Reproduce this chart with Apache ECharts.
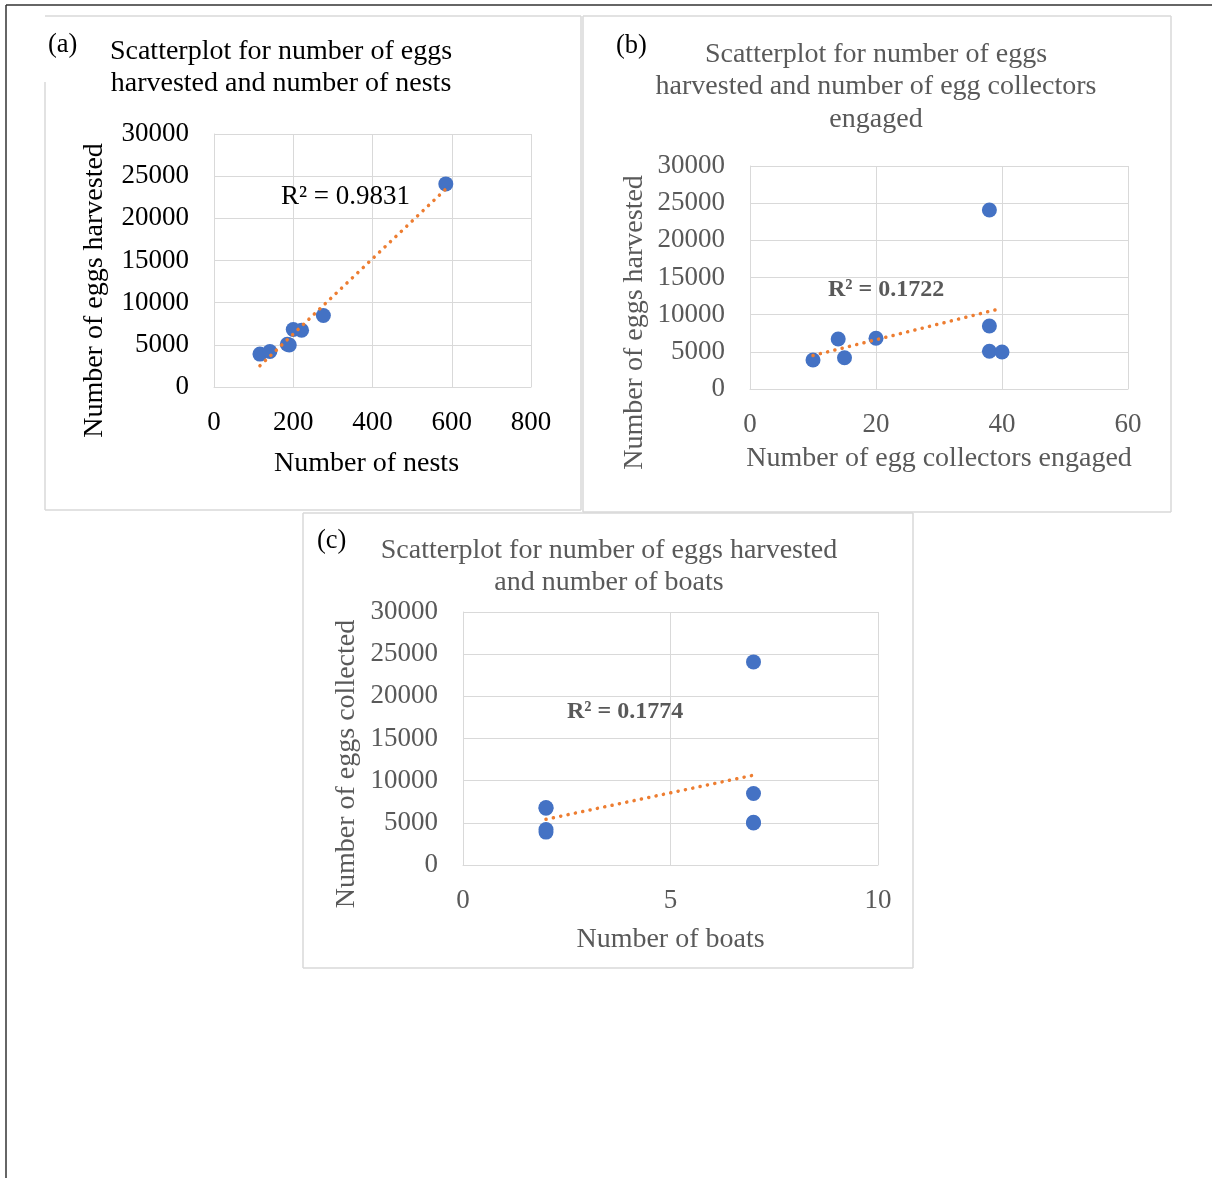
<!DOCTYPE html>
<html>
<head>
<meta charset="utf-8">
<title>Scatterplots</title>
<script src="https://cdn.jsdelivr.net/npm/echarts@6/dist/echarts.min.js"></script>
<style>
  html, body { margin: 0; padding: 0; background: #fff; }
  #main { width: 1212px; height: 1178px; }
</style>
</head>
<body>
<div id="main"></div>
<script>
// one record per site: eggs harvested with nests, egg collectors and boats
var eggsHarvested = [3900, 4210, 6730, 6820, 24080, 8475, 5070, 4980];
var nests = [116, 141, 221, 200, 585, 276, 185, 190];
var collectors = [10, 15, 14, 20, 38, 38, 38, 40];
var boats = [2, 2, 2, 2, 7, 7, 7, 7];

var eggTicks = [0, 5000, 10000, 15000, 20000, 25000, 30000];
var nestTicks = [0, 200, 400, 600, 800];
var collectorTicks = [0, 20, 40, 60];
var boatTicks = [0, 5, 10];

var r2Labels = ['R\u00b2 = 0.9831', 'R\u00b2 = 0.1722', 'R\u00b2 = 0.1774'];

var FONT = "'Liberation Serif', 'Times New Roman', serif";
var BLUE = '#4472C4';
var ORANGE = '#ED7D31';
var GRIDC = '#d9d9d9';

function pairs(xs, ys) {
  var out = [];
  for (var i = 0; i < xs.length; i++) out.push([xs[i], ys[i]]);
  return out;
}

// least squares trendline over the range of the x values (like Excel)
function trend(xs, ys) {
  var n = xs.length, mx = 0, my = 0;
  for (var i = 0; i < n; i++) { mx += xs[i]; my += ys[i]; }
  mx /= n; my /= n;
  var sxy = 0, sxx = 0;
  for (var j = 0; j < n; j++) {
    sxy += (xs[j] - mx) * (ys[j] - my);
    sxx += (xs[j] - mx) * (xs[j] - mx);
  }
  var b = sxy / sxx, a = my - b * mx;
  var lo = Math.min.apply(null, xs), hi = Math.max.apply(null, xs);
  return [[lo, a + b * lo], [hi, a + b * hi]];
}

function plain(v) { return String(v); }

function xAxisFor(idx, ticks, name, color, gap, shift) {
  return {
    type: 'value', gridIndex: idx,
    min: ticks[0], max: ticks[ticks.length - 1], interval: ticks[1] - ticks[0],
    name: name, nameLocation: 'middle', nameGap: gap,
    nameTextStyle: { fontFamily: FONT, fontSize: 28, color: color, padding: [0, shift, 0, 0] },
    axisLine: { show: true, lineStyle: { color: GRIDC, width: 1 } },
    axisTick: { show: false },
    axisLabel: { fontFamily: FONT, fontSize: 27, color: color, margin: 22, formatter: plain },
    splitLine: { show: true, lineStyle: { color: GRIDC, width: 1 } }
  };
}

function yAxisFor(idx, name, color, gap, shift) {
  return {
    type: 'value', gridIndex: idx,
    min: eggTicks[0], max: eggTicks[eggTicks.length - 1], interval: eggTicks[1] - eggTicks[0],
    name: name, nameLocation: 'middle', nameGap: gap, nameRotate: 90,
    nameTextStyle: { fontFamily: FONT, fontSize: 28, color: color, padding: [0, shift, 0, 0] },
    axisLine: { show: true, lineStyle: { color: GRIDC, width: 1 } },
    axisTick: { show: false },
    axisLabel: { fontFamily: FONT, fontSize: 27, color: color, margin: 25, formatter: plain },
    splitLine: { show: true, lineStyle: { color: GRIDC, width: 1 } }
  };
}

function scatterFor(idx, xs) {
  return {
    type: 'scatter', xAxisIndex: idx, yAxisIndex: idx,
    data: pairs(xs, eggsHarvested),
    symbolSize: 15,
    itemStyle: { color: BLUE, opacity: 1 },
    z: 2
  };
}

function trendFor(idx, xs) {
  return {
    type: 'line', xAxisIndex: idx, yAxisIndex: idx,
    data: trend(xs, eggsHarvested),
    showSymbol: false, silent: true,
    lineStyle: { color: ORANGE, width: 3.5, type: [0.1, 7.4], cap: 'round' },
    z: 3
  };
}

function border(x1, y1, x2, y2, color, w) {
  return { type: 'line', shape: { x1: x1, y1: y1, x2: x2, y2: y2 }, style: { stroke: color, lineWidth: w }, z: 1 };
}

function txt(x, y, s, size, color, weight) {
  return {
    type: 'text', x: x, y: y, z: 10,
    style: { text: s, fontFamily: FONT, fontSize: size, fill: color, fontWeight: weight || 'normal', align: 'left', verticalAlign: 'middle' }
  };
}

var chart = echarts.init(document.getElementById('main'), null, { renderer: 'canvas' });

var option = {
  backgroundColor: '#fff',
  animation: false,
  title: [
    {
      text: 'Scatterplot for number of eggs\nharvested and number of nests',
      left: 281, top: 36, textAlign: 'center', padding: 0,
      textStyle: { fontFamily: FONT, fontSize: 28, fontWeight: 'normal', color: '#000', lineHeight: 32 }
    },
    {
      text: 'Scatterplot for number of eggs\nharvested and number of egg collectors\nengaged',
      left: 876, top: 38, textAlign: 'center', padding: 0,
      textStyle: { fontFamily: FONT, fontSize: 28, fontWeight: 'normal', color: '#595959', lineHeight: 32.5, align: 'center' }
    },
    {
      text: 'Scatterplot for number of eggs harvested\nand number of boats',
      left: 609, top: 535, textAlign: 'center', padding: 0,
      textStyle: { fontFamily: FONT, fontSize: 28, fontWeight: 'normal', color: '#595959', lineHeight: 32, align: 'center' }
    }
  ],
  grid: [
    { left: 214, top: 134, width: 317, height: 253 },
    { left: 750, top: 166, width: 378, height: 223 },
    { left: 463, top: 612, width: 415, height: 253 }
  ],
  xAxis: [
    xAxisFor(0, nestTicks, 'Number of nests', '#000', 63, 12),
    xAxisFor(1, collectorTicks, 'Number of egg collectors engaged', '#595959', 56, 0),
    xAxisFor(2, boatTicks, 'Number of boats', '#595959', 61, 0)
  ],
  yAxis: [
    yAxisFor(0, 'Number of eggs harvested', '#000', 105, 60),
    yAxisFor(1, 'Number of eggs harvested', '#595959', 101, 90),
    yAxisFor(2, 'Number of eggs collected', '#595959', 102, 51)
  ],
  series: [
    scatterFor(0, nests), trendFor(0, nests),
    scatterFor(1, collectors), trendFor(1, collectors),
    scatterFor(2, boats), trendFor(2, boats)
  ],
  graphic: [
    // outer frame, cut off at the right and bottom
    border(6, 5, 1212, 5, '#333', 1.5),
    border(6, 5, 6, 1178, '#333', 1.5),
    // panel (a)
    border(45, 16, 581, 16, GRIDC, 1.5),
    border(45, 82, 45, 510, GRIDC, 1.5),
    border(45, 510, 581, 510, GRIDC, 1.5),
    border(581, 16, 581, 510, GRIDC, 1.5),
    // panel (b)
    border(583, 16, 1171, 16, GRIDC, 1.5),
    border(583, 16, 583, 512, GRIDC, 1.5),
    border(583, 512, 1171, 512, GRIDC, 1.5),
    border(1171, 16, 1171, 512, GRIDC, 1.5),
    // panel (c)
    border(303, 513, 913, 513, GRIDC, 1.5),
    border(303, 513, 303, 968, GRIDC, 1.5),
    border(303, 968, 913, 968, GRIDC, 1.5),
    border(913, 513, 913, 968, GRIDC, 1.5),
    txt(48, 45, '(a)', 26.5, '#000'),
    txt(616, 46, '(b)', 26.5, '#000'),
    txt(317, 541, '(c)', 26.5, '#000'),
    txt(281, 197, r2Labels[0], 27, '#000'),
    txt(828, 290, r2Labels[1], 24, '#595959', 'bold'),
    txt(567, 712, r2Labels[2], 24, '#595959', 'bold')
  ]
};

chart.setOption(option);
window.addEventListener('resize', chart.resize);
</script>
</body>
</html>
